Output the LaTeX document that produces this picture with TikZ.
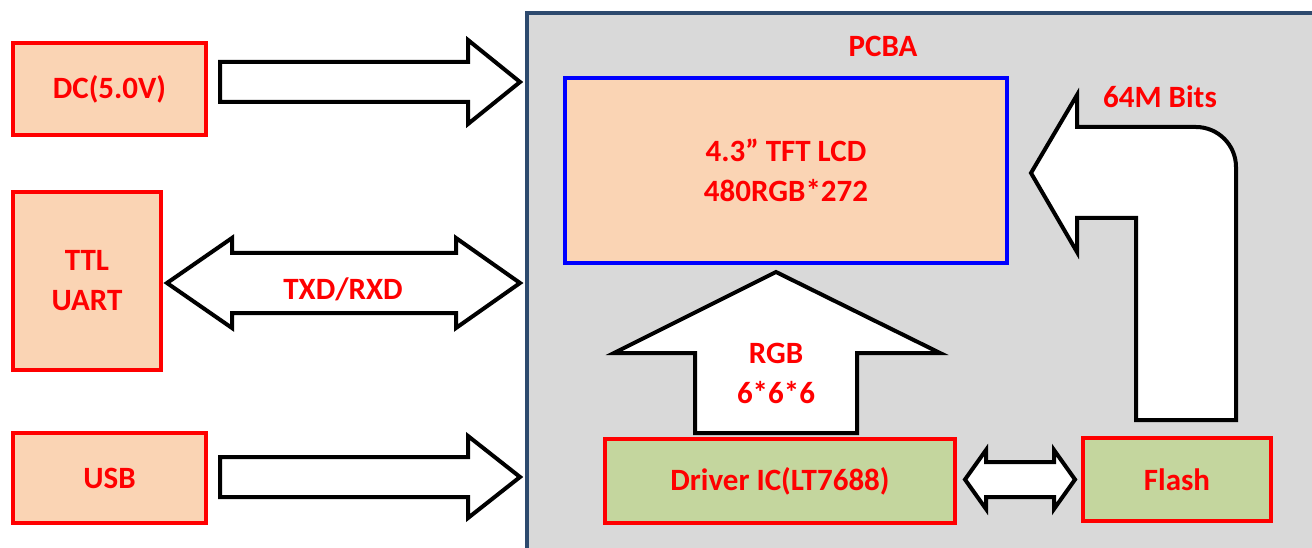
\documentclass[tikz,border=0pt]{standalone}
\usepackage{fontspec}
\setmainfont{Carlito}
\usetikzlibrary{calc}
\definecolor{peach}{HTML}{FAD4B4}
\definecolor{boxgreen}{HTML}{C4D69E}
\definecolor{pcbgray}{HTML}{D9D9D9}
\definecolor{navy}{HTML}{2D4A6E}
\begin{document}
\begin{tikzpicture}[x=1pt,y=-1pt,
  lbl/.style={text=red,font=\fontsize{31}{40}\selectfont\bfseries,align=center,inner sep=0pt},
  extbox/.style={draw=red,line width=4pt,fill=peach,lbl},
  icbox/.style={draw=red,line width=4pt,fill=boxgreen,lbl},
  lcdbox/.style={draw=blue,line width=4pt,fill=peach,lbl},
  blockarrow/.style={draw=black,line width=4pt,fill=white,line join=miter},
]
\useasboundingbox (0,0) rectangle (1312,548);
\fill[white] (0,0) rectangle (1312,548);
% PCBA board
\draw[navy,line width=4pt,fill=pcbgray] (527,13) rectangle (1340,570);
\node[lbl] (pcba) at (883,46) {PCBA};

% external boxes
\node[extbox,minimum width=193pt,minimum height=92pt] (dc) at (109.5,89) {DC(5.0V)};
\node[extbox,minimum width=148pt,minimum height=178pt] (ttl) at (87,281) {TTL\\UART};
\node[extbox,minimum width=193pt,minimum height=90pt] (usb) at (109.5,478) {USB};

% internal boxes
\node[lcdbox,minimum width=442pt,minimum height=185pt] (lcd) at (786,170.5) {4.3” TFT LCD\\480RGB*272};
\node[icbox,minimum width=350pt,minimum height=84pt] (drv) at (780,481) {Driver IC(LT7688)};
\node[icbox,minimum width=188pt,minimum height=83pt] (flash) at (1177,479.5) {Flash};

% DC arrow
\draw[blockarrow] (220,62) -- (468,62) -- (468,40) -- (520,82) -- (468,124) -- (468,102) -- (220,102) -- cycle;
% USB arrow
\draw[blockarrow] (220,457) -- (468,457) -- (468,436) -- (520,477) -- (468,518) -- (468,497) -- (220,497) -- cycle;
% TXD/RXD double arrow
\draw[blockarrow] (167,283) -- (232,238) -- (232,253) -- (456,253) -- (456,238) -- (520,283)
  -- (456,328) -- (456,313) -- (232,313) -- (232,328) -- cycle;
\node[lbl] (txd) at (343,289) {TXD/RXD};

% RGB up arrow
\draw[blockarrow] (695,433) -- (695,353) -- (614,353) -- (776,272) -- (940,353) -- (857,353) -- (857,433) -- cycle;
\node[lbl] (rgb) at (776,373) {RGB\\6*6*6};

% Driver <-> Flash
\draw[blockarrow] (965,479.5) -- (986,450) -- (986,462) -- (1054,462) -- (1054,450) -- (1075,479.5)
  -- (1054,509) -- (1054,497) -- (986,497) -- (986,509) -- cycle;

% Flash -> LCD bent arrow
\draw[blockarrow] (1031,173) -- (1077,95) -- (1077,127) -- (1196,127)
  .. controls (1218,127) and (1236,145) .. (1236,167)
  -- (1236,420) -- (1136,420) -- (1136,218) -- (1077,218) -- (1077,252) -- cycle;
\node[lbl] (bits) at (1160,97) {64M Bits};
\end{tikzpicture}
\end{document}
